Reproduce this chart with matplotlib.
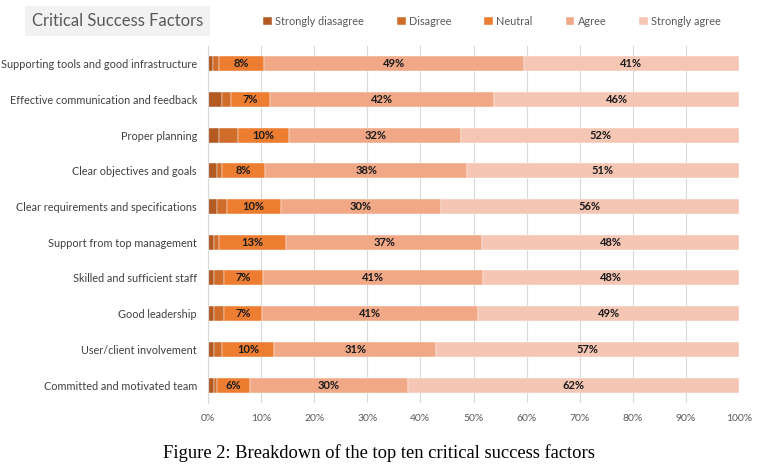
import matplotlib
matplotlib.use("Agg")
import matplotlib.pyplot as plt
import numpy as np

plt.rcParams['font.family'] = ['Lato', 'DejaVu Sans']

factors = [
    "Supporting tools and good infrastructure",
    "Effective communication and feedback",
    "Proper planning",
    "Clear objectives and goals",
    "Clear requirements and specifications",
    "Support from top management",
    "Skilled and sufficient staff",
    "Good leadership",
    "User/client involvement",
    "Committed and motivated team",
]
levels = ["Strongly diasagree", "Disagree", "Neutral", "Agree", "Strongly agree"]

strongly_disagree = [1.0, 2.6, 2.1, 1.6, 1.6, 1.1, 1.1, 1.1, 1.1, 1.1]
disagree = [1.1, 1.7, 3.5, 1.0, 1.9, 1.0, 1.9, 1.9, 1.5, 0.5]
neutral = [8.4, 7.3, 9.7, 8.2, 10.2, 12.6, 7.4, 7.1, 9.8, 6.3]
agree = [48.9, 42.2, 32.4, 37.9, 30.1, 36.9, 41.4, 40.7, 30.6, 29.7]
strongly_agree = [40.6, 46.2, 52.3, 51.3, 56.2, 48.4, 48.2, 49.2, 57.0, 62.4]

colors = ["#B35A22", "#D06D2B", "#ED7D31", "#F1A886", "#F6C6B5"]
labelled = [False, False, True, True, True]

series = [strongly_disagree, disagree, neutral, agree, strongly_agree]

fig = plt.figure(figsize=(7.62, 4.68), dpi=100)
ax = fig.add_axes([0.273, 0.139, 0.697, 0.763])

y = np.arange(len(factors))
left = np.zeros(len(factors))
for name, vals, col, lab in zip(levels, series, colors, labelled):
    vals = np.array(vals)
    bars = ax.barh(y, vals, left=left, height=0.42, color=col, label=name,
                   edgecolor="white", linewidth=0.3, zorder=3)
    if lab:
        for b, v in zip(bars, vals):
            ax.text(b.get_x() + b.get_width() / 2, b.get_y() + b.get_height() / 2,
                    "%d%%" % round(v), ha="center", va="center",
                    fontsize=8, color="#1a1a1a", fontweight="bold", zorder=4)
    left += vals

ax.set_xlim(0, 100)
ax.set_ylim(len(factors) - 0.5, -0.5)
ax.set_yticks(y)
ax.set_yticklabels(factors, fontsize=7.8, color="#404040")
ax.set_xticks(np.arange(0, 101, 10))
ax.set_xticklabels(["%d%%" % t for t in range(0, 101, 10)], fontsize=7.5, color="#595959")
ax.tick_params(axis="both", length=0)
ax.tick_params(axis="y", pad=8)
ax.tick_params(axis="x", pad=8)
ax.grid(axis="x", color="#D9D9D9", linewidth=0.8, zorder=0)
for s in ["top", "right", "bottom"]:
    ax.spines[s].set_visible(False)
ax.spines["left"].set_color("#D9D9D9")
ax.spines["left"].set_zorder(5)

fig.text(0.042, 0.955, "Critical Success Factors", fontsize=12, color="#595959",
         va="center", ha="left",
         bbox=dict(boxstyle="square,pad=0.4", facecolor="#F2F2F2", edgecolor="none"))

fig.legend(loc="center left", bbox_to_anchor=(0.340, 0.955), ncol=5, frameon=False,
           fontsize=7.8, handlelength=0.8, handleheight=0.8, handletextpad=0.3,
           columnspacing=3.05, labelcolor="#595959", borderaxespad=0)

fig.text(0.497, 0.032, "Figure 2: Breakdown of the top ten critical success factors",
         fontsize=13.3, ha="center", va="center", family=["Liberation Serif", "DejaVu Serif"])

fig.savefig("out.png", dpi=100)
